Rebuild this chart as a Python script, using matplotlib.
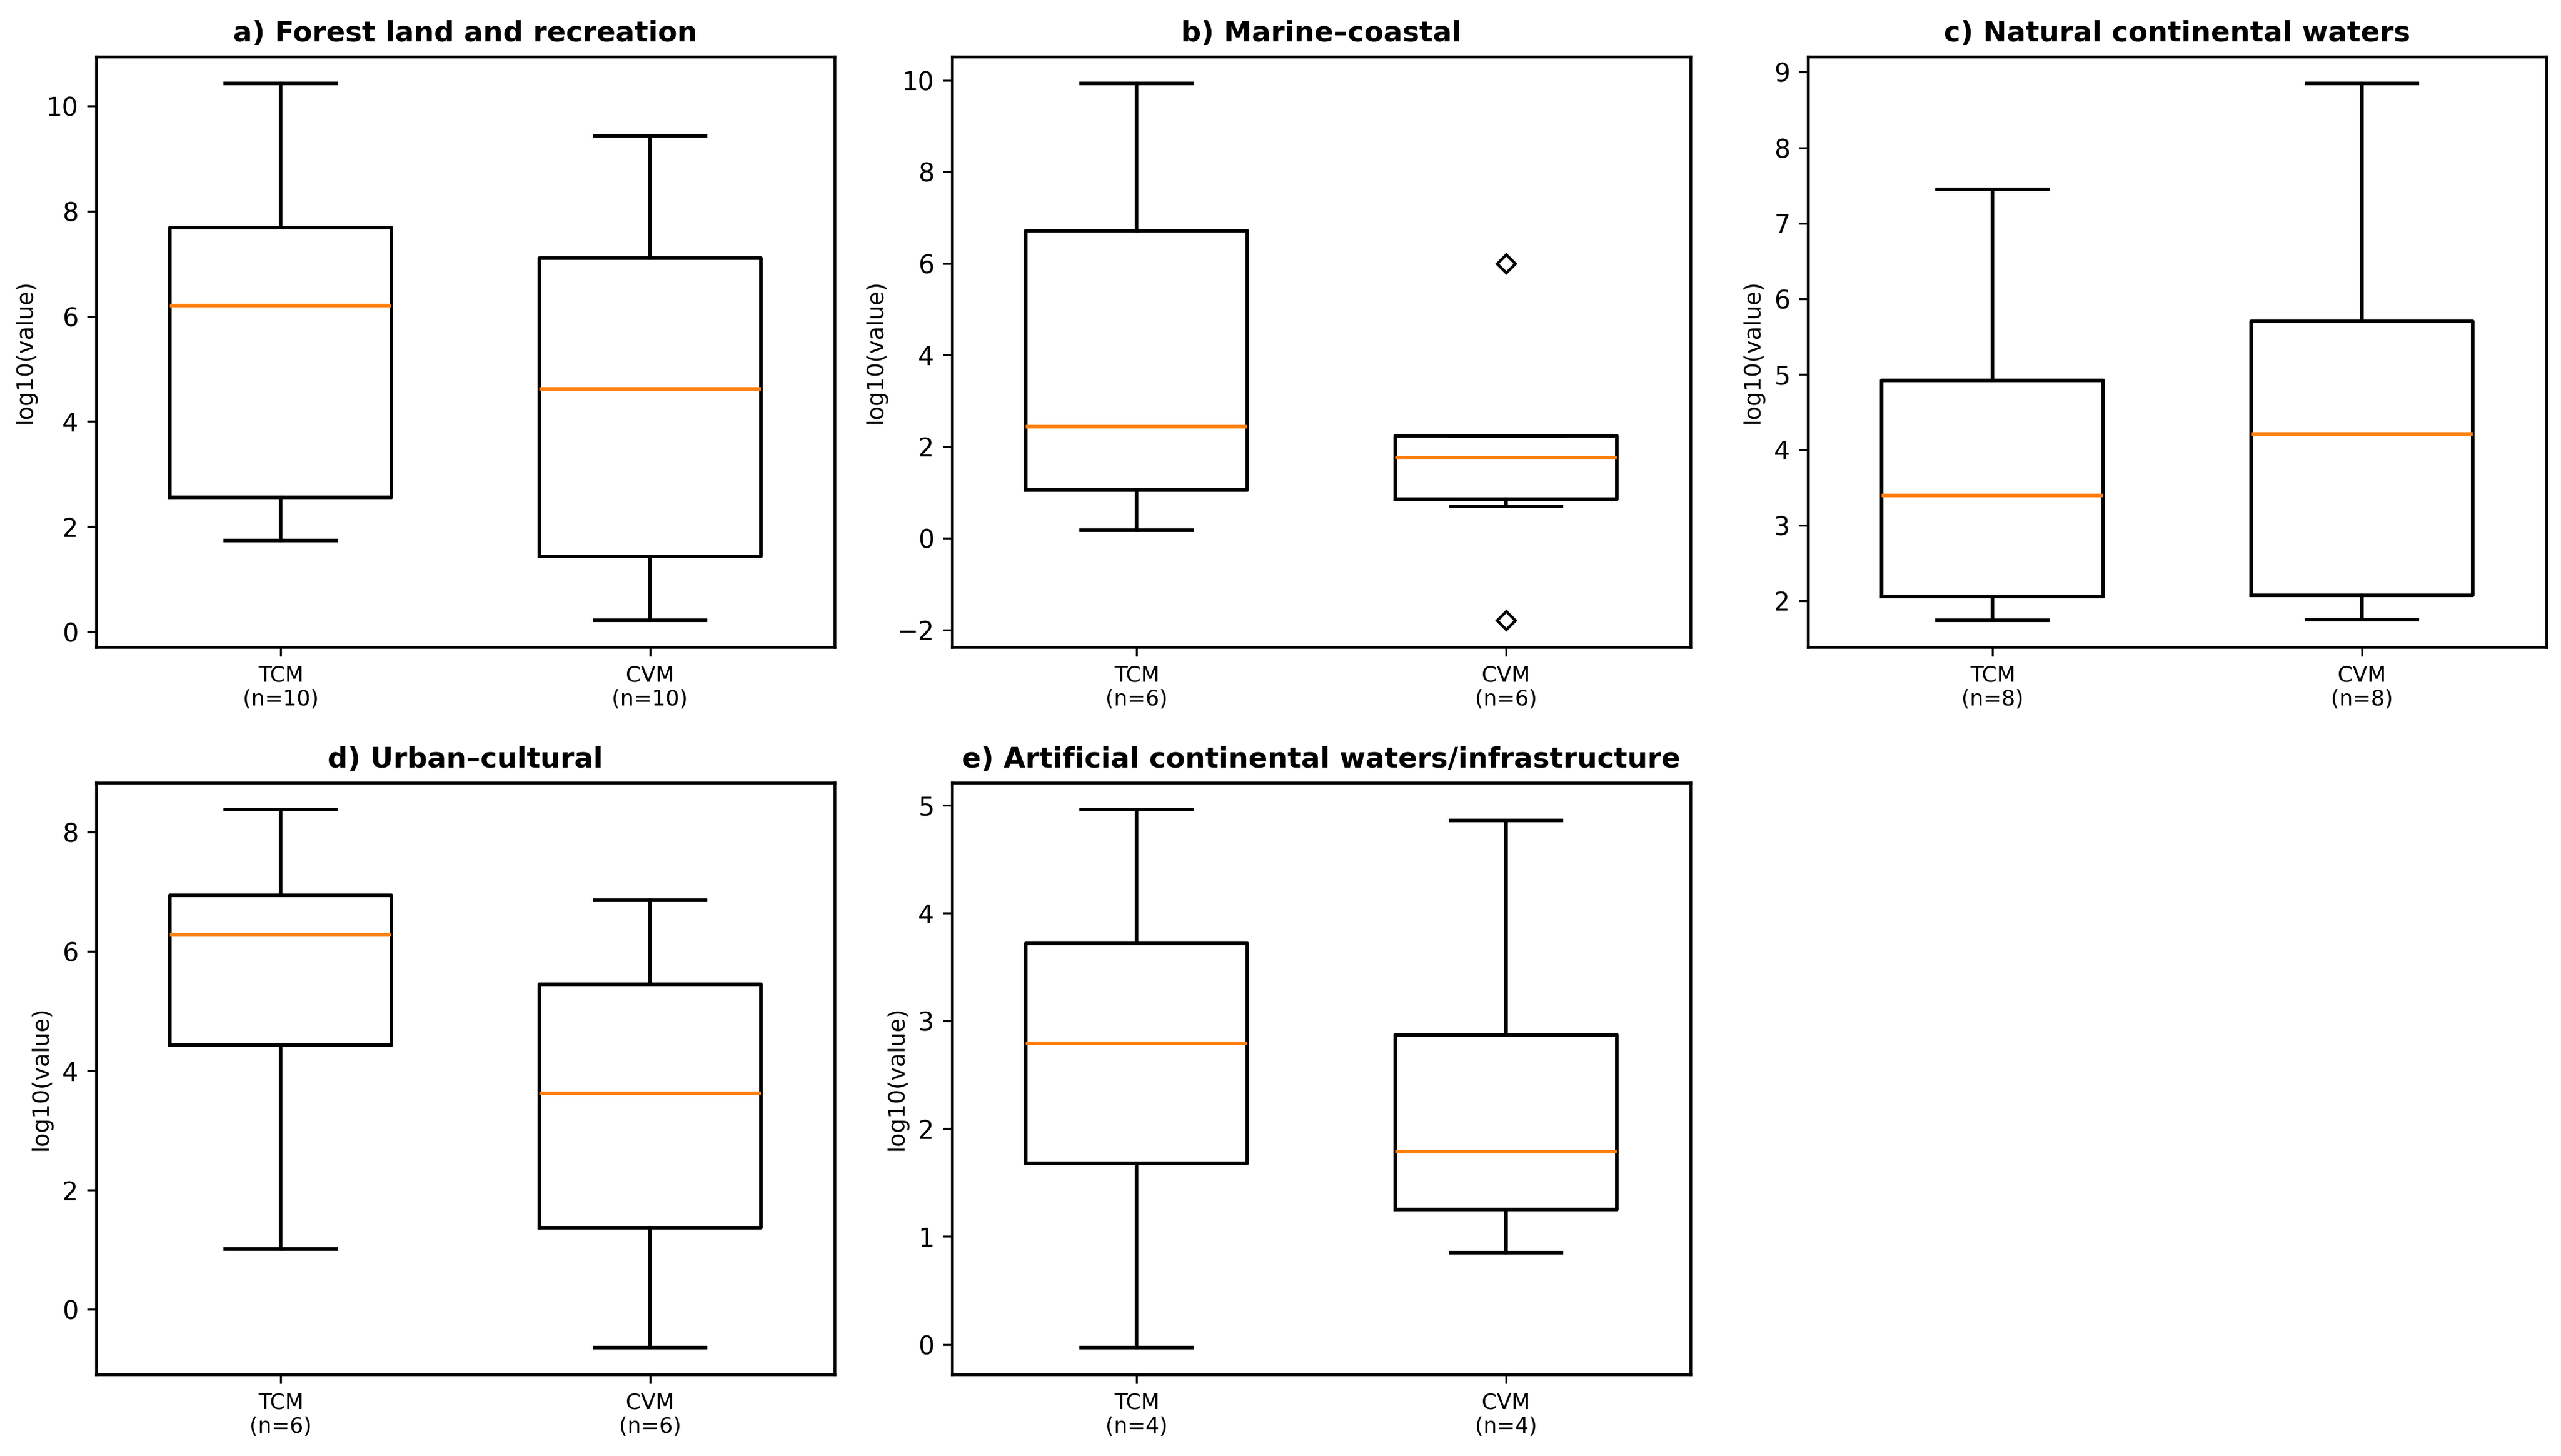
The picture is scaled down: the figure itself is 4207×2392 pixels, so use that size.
import matplotlib
matplotlib.use("Agg")
import matplotlib.pyplot as plt

titles = ["a) Forest land and recreation", "b) Marine–coastal",
          "c) Natural continental waters", "d) Urban–cultural",
          "e) Artificial continental waters/infrastructure"]
methods = ["TCM", "CVM"]
n_obs = [10, 6, 8, 6, 4]

# five-number summaries (log10 values)
tcm_whislo = [1.74, 0.17, 1.74, 1.01, -0.03]
tcm_q1     = [2.56, 1.05, 2.05, 4.43, 1.68]
tcm_med    = [6.21, 2.44, 3.39, 6.28, 2.79]
tcm_q3     = [7.69, 6.71, 4.92, 6.94, 3.72]
tcm_whishi = [10.43, 9.93, 7.45, 8.38, 4.96]
tcm_fliers = [[], [], [], [], []]

cvm_whislo = [0.22, 0.70, 1.75, -0.64, 0.85]
cvm_q1     = [1.43, 0.86, 2.07, 1.37, 1.25]
cvm_med    = [4.62, 1.76, 4.21, 3.62, 1.79]
cvm_q3     = [7.11, 2.23, 5.70, 5.45, 2.87]
cvm_whishi = [9.44, 2.23, 8.85, 6.86, 4.86]
cvm_fliers = [[], [6.0, -1.79], [], [], []]

W, H = 4207, 2392
fig = plt.figure(figsize=(W / 300, H / 300), dpi=300)

def px(l, r, t, b):
    return [l / W, 1 - b / H, (r - l) / W, (b - t) / H]

lefts = [158, 1564, 2970]
aw = 1213
rows = [(93, 1063), (1286, 2258)]
rects = []
for k in range(5):
    r, c = divmod(k, 3)
    rects.append(px(lefts[c], lefts[c] + aw, rows[r][0], rows[r][1]))

lw = 1.4
for i in range(5):
    ax = fig.add_axes(rects[i])
    stats = [
        dict(whislo=tcm_whislo[i], q1=tcm_q1[i], med=tcm_med[i], q3=tcm_q3[i],
             whishi=tcm_whishi[i], fliers=tcm_fliers[i]),
        dict(whislo=cvm_whislo[i], q1=cvm_q1[i], med=cvm_med[i], q3=cvm_q3[i],
             whishi=cvm_whishi[i], fliers=cvm_fliers[i]),
    ]
    ax.bxp(stats, positions=[1, 2], widths=0.6, showfliers=True,
           boxprops=dict(color="black", linewidth=lw),
           whiskerprops=dict(color="black", linewidth=lw),
           capprops=dict(color="black", linewidth=lw),
           medianprops=dict(color="#ff7f0e", linewidth=lw),
           flierprops=dict(marker="D", markerfacecolor="none", markeredgecolor="black",
                           markersize=5, markeredgewidth=1.1))
    ax.set_xticks([1, 2])
    ax.set_xticklabels([f"{m}\n(n={n_obs[i]})" for m in methods], fontsize=8.5)
    ax.tick_params(axis="y", labelsize=10)
    ax.set_ylabel("log10(value)", fontsize=9)
    ax.set_title(titles[i], fontsize=11.1, fontweight="bold")
    for s in ax.spines.values():
        s.set_linewidth(1.1)

fig.savefig("out.png", dpi=300)
